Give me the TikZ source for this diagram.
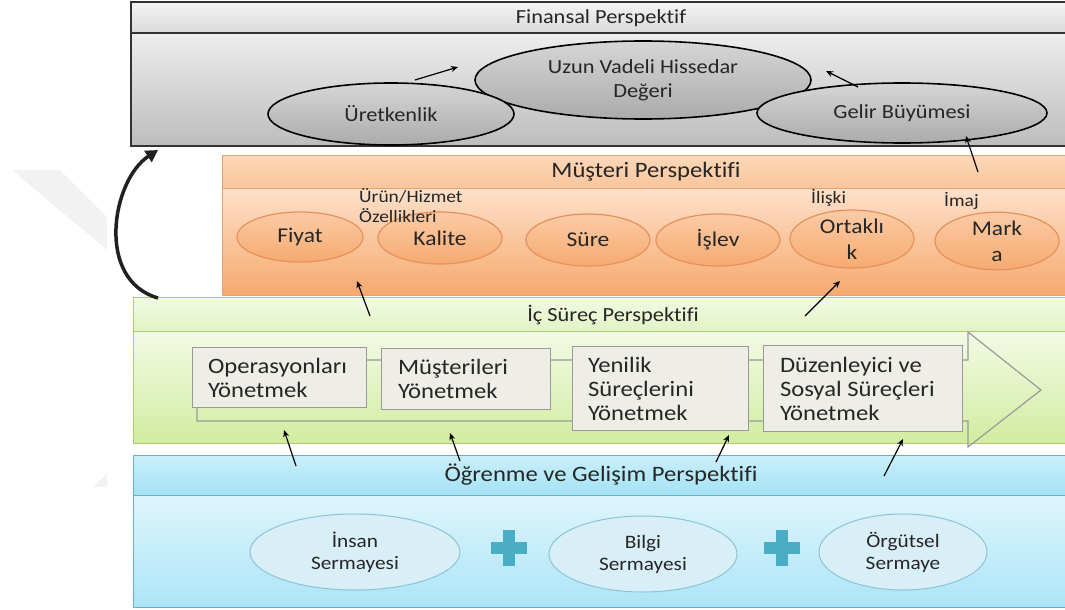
\documentclass[tikz,border=0pt]{standalone}
\usepackage{fontspec}
\setmainfont{Carlito}[FakeStretch=1.12, Ligatures=NoCommon]
\usetikzlibrary{arrows.meta,shapes.geometric,calc}

\definecolor{txt}{HTML}{262626}
\definecolor{finline}{HTML}{333333}
\definecolor{finhdA}{HTML}{F4F4F4}
\definecolor{finhdB}{HTML}{DADADA}
\definecolor{finbdA}{HTML}{EEEEEE}
\definecolor{finbdB}{HTML}{BDBDBD}
\definecolor{finelA}{HTML}{D6D6D6}
\definecolor{finelB}{HTML}{ABABAB}
\definecolor{orline}{HTML}{E8A36E}
\definecolor{orhdA}{HTML}{FCD8B9}
\definecolor{orhdB}{HTML}{F9C59C}
\definecolor{orbdA}{HTML}{FDE1CB}
\definecolor{orbdB}{HTML}{F6A96E}
\definecolor{orell}{HTML}{E6915A}
\definecolor{orelA}{HTML}{FBCBA6}
\definecolor{orelB}{HTML}{F6AA70}
\definecolor{grline}{HTML}{A6CF6B}
\definecolor{grhdA}{HTML}{F2FAE4}
\definecolor{grhdB}{HTML}{E3F3C4}
\definecolor{grbdA}{HTML}{F3FAE6}
\definecolor{grbdB}{HTML}{D2EC9F}
\definecolor{blline}{HTML}{6AAFC6}
\definecolor{blhdA}{HTML}{CBEFFA}
\definecolor{blhdB}{HTML}{A3E2F5}
\definecolor{blbdA}{HTML}{DFF5FC}
\definecolor{blbdB}{HTML}{ABE5F7}
\definecolor{blell}{HTML}{8DC3D6}
\definecolor{blelF}{HTML}{D8EFF7}
\definecolor{plusc}{HTML}{4BACC6}
\definecolor{procline}{HTML}{9A9A9A}
\definecolor{procfill}{HTML}{EEEEE6}

\tikzset{
  every node/.style={text=txt},
  hdr/.style={font=\fontsize{20}{22}\selectfont, inner sep=0pt},
  finell/.style={ellipse, draw=black, line width=1.6pt, top color=finelA, bottom color=finelB,
                 inner sep=0pt, align=center, font=\fontsize{20}{24}\selectfont},
  orangeell/.style={ellipse, draw=orell, line width=1.2pt, top color=orelA, bottom color=orelB,
                 inner sep=0pt, align=center, font=\fontsize{21}{26}\selectfont},
  blueell/.style={ellipse, draw=blell, line width=1pt, fill=blelF,
                 inner sep=0pt, align=center, font=\fontsize{19}{22}\selectfont},
  procbox/.style={draw=procline, line width=1pt, fill=procfill, anchor=north west,
                 inner sep=0pt, align=left, font=\fontsize{22}{24}\selectfont},
  lbl/.style={font=\fontsize{17.4}{21}\selectfont, inner sep=0pt, align=left, anchor=west},
  flow/.style={-{Stealth[length=7pt,width=6pt]}, line width=1.2pt, black},
}

\begin{document}
\begin{tikzpicture}[x=1pt,y=-1pt]
\useasboundingbox (0,0) rectangle (1065,610);
\clip (0,0) rectangle (1065,610);

% faint background mark on the left
\fill[gray!10] (12,170) -- (60,170) -- (107,217) -- (107,250) -- cycle;
\fill[gray!10] (93,487) -- (107,473) -- (107,487) -- cycle;

% ---------- Finansal Perspektif ----------
\shade[top color=finhdA, bottom color=finhdB] (131,2) rectangle (1075,33);
\shade[top color=finbdA, bottom color=finbdB] (131,33) rectangle (1075,146);
\draw[finline, line width=1.6pt] (131,2) rectangle (1075,146) (131,33) -- (1075,33);
\node[hdr] (finhead) at (601,18) {Finansal Perspektif};

\node[finell, minimum width=336pt, minimum height=78pt] (uzun) at (643,80) {Uzun Vadeli Hissedar\\Değeri};
\node[finell, minimum width=246pt, minimum height=62pt] (uret) at (391,114) {Üretkenlik};
\node[finell, minimum width=290pt, minimum height=60pt] (gelir) at (902,113) {Gelir Büyümesi};

\coordinate (a1s) at (415,80); \coordinate (a1e) at (458,67);
\coordinate (a2s) at (858,87); \coordinate (a2e) at (826,71);
\draw[flow] (a1s) -- (a1e);
\draw[flow] (a2s) -- (a2e);

% ---------- Müşteri Perspektifi ----------
\shade[top color=orhdA, bottom color=orhdB] (222,155) rectangle (1075,188);
\shade[top color=orbdA, bottom color=orbdB] (222,188) rectangle (1075,295);
\draw[orline, line width=1pt] (222,155) rectangle (1075,295) (222,188) -- (1075,188);
\node[hdr, font=\fontsize{22}{24}\selectfont] (muhead) at (646,172) {Müşteri Perspektifi};

\node[orangeell, minimum width=126pt, minimum height=50pt] (fiyat) at (300,237) {Fiyat};
\node[orangeell, minimum width=124pt, minimum height=52pt] (kalite) at (440,238) {Kalite};
\node[orangeell, minimum width=124pt, minimum height=52pt] (sure) at (588,240) {Süre};
\node[orangeell, minimum width=124pt, minimum height=52pt] (islev) at (718,240) {İşlev};
\node[orangeell, minimum width=124pt, minimum height=58pt] (ortak) at (852,239) {Ortaklı\\k};
\node[orangeell, minimum width=124pt, minimum height=56pt] (marka) at (997,241) {Mark\\a};

\node[lbl] (urun) at (359,196) {Ürün/Hizmet};
\node[lbl] (ozel) at (359,216) {Özellikleri};
\node[lbl] (iliski) at (811,198) {İlişki};
\node[lbl] (imaj) at (944,201) {İmaj};

\coordinate (a3s) at (978,172); \coordinate (a3e) at (966,136);
\draw[flow] (a3s) -- (a3e);

% ---------- İç Süreç Perspektifi ----------
\shade[top color=grhdA, bottom color=grhdB] (133,297) rectangle (1075,331);
\shade[top color=grbdA, bottom color=grbdB] (133,331) rectangle (1075,443);
\draw[grline, line width=1pt] (133,297) rectangle (1075,443) (133,331) -- (1075,331);
\node[hdr] (ichead) at (613,315) {İç Süreç Perspektifi};

% process arrow outline
\draw[procline, line width=1.2pt]
  (197,360) -- (968,360) -- (968,332) -- (1041,390) -- (968,447) -- (968,421) -- (197,421) -- cycle;

\node[procbox, minimum width=174pt, minimum height=60pt] (ops) at (192,347)
  {\hspace*{15pt}\parbox[c][60pt][c]{158pt}{Operasyonları\\Yönetmek}};
\node[procbox, minimum width=169pt, minimum height=61pt] (mus) at (381,348)
  {\hspace*{16pt}\parbox[c][61pt][c]{152pt}{Müşterileri\\Yönetmek}};
\node[procbox, minimum width=176pt, minimum height=84pt] (yen) at (572,346)
  {\hspace*{15pt}\parbox[c][84pt][c]{160pt}{Yenilik\\Süreçlerini\\Yönetmek}};
\node[procbox, minimum width=199pt, minimum height=86pt] (duz) at (763,345)
  {\hspace*{16pt}\parbox[c][86pt][c]{182pt}{Düzenleyici ve\\Sosyal Süreçleri\\Yönetmek}};

\coordinate (a4s) at (370,316); \coordinate (a4e) at (357,281);
\coordinate (a5s) at (805,316); \coordinate (a5e) at (840,281);
\draw[flow] (a4s) -- (a4e);
\draw[flow] (a5s) -- (a5e);

% ---------- Öğrenme ve Gelişim Perspektifi ----------
\shade[top color=blhdA, bottom color=blhdB] (133,455) rectangle (1075,495);
\shade[top color=blbdA, bottom color=blbdB] (133,495) rectangle (1075,607);
\draw[blline, line width=1pt] (133,455) rectangle (1075,607) (133,495) -- (1075,495);
\node[hdr, font=\fontsize{22}{24}\selectfont] (oghead) at (601,475) {Öğrenme ve Gelişim Perspektifi};

\node[blueell, minimum width=210pt, minimum height=76pt] (insan) at (355,552) {İnsan\\Sermayesi};
\node[blueell, minimum width=188pt, minimum height=76pt] (bilgi) at (643,554) {Bilgi\\Sermayesi};
\node[blueell, minimum width=168pt, minimum height=76pt] (orgut) at (903,552) {Örgütsel\\Sermaye};

% plus signs
\foreach \px/\nm in {509/plusa, 782/plusb}{
  \coordinate (\nm) at (\px,548);
  \fill[plusc] ($(\nm)+(-6,-18)$) rectangle ($(\nm)+(6,18)$);
  \fill[plusc] ($(\nm)+(-18,-6)$) rectangle ($(\nm)+(18,6)$);
}

\coordinate (a6s) at (296,466); \coordinate (a6e) at (284,430);
\coordinate (a7s) at (460,461); \coordinate (a7e) at (450,433);
\coordinate (a8s) at (716,462); \coordinate (a8e) at (729,435);
\coordinate (a9s) at (884,476); \coordinate (a9e) at (903,439);
\draw[flow] (a6s) -- (a6e);
\draw[flow] (a7s) -- (a7e);
\draw[flow] (a8s) -- (a8e);
\draw[flow] (a9s) -- (a9e);

% feedback loop on the left
\coordinate (loopS) at (158,298);
\coordinate (loopE) at (158,150);
\draw[line width=3.5pt, gray!25!black, -{Triangle[length=12pt,width=13pt]}]
  (loopS) .. controls (95,280) and (112,180) .. (loopE);
\end{tikzpicture}
\end{document}
